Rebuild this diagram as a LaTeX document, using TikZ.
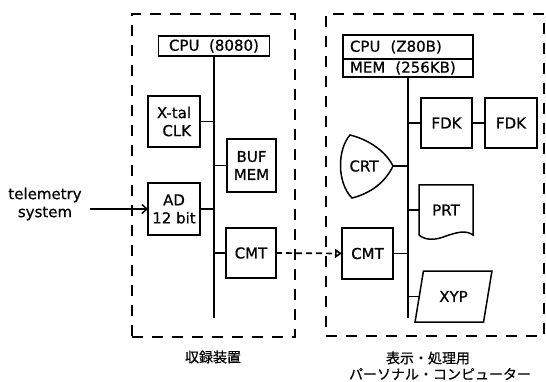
\documentclass[tikz,border=0pt]{standalone}
\usepackage{fontspec}
\setmainfont[FakeBold=0.6]{DejaVu Sans}
\newfontfamily\jpfont[FakeBold=0.5]{Noto Sans CJK JP}
\usetikzlibrary{arrows.meta, shapes.geometric, positioning}

\begin{document}
\begin{tikzpicture}[x=1pt, y=-1pt,
    unit/.style={rectangle, draw=black, line width=1.5pt, inner sep=0pt, outer sep=0pt, align=center},
    group/.style={draw=black, line width=1.7pt, dash pattern=on 11pt off 9pt, inner sep=0pt, outer sep=0pt},
    bus/.style={line width=1.5pt},
    tape/.style={-{Triangle[open, length=7pt, width=9pt]}, line width=1.7pt, dash pattern=on 6pt off 4pt},
    inarr/.style={-{Straight Barb[length=5pt, width=9pt]}, line width=1.5pt},
    caption/.style={font=\jpfont\fontsize{14}{16}\selectfont},
    font=\fontsize{15}{18}\selectfont]
\useasboundingbox (0,0) rectangle (546,382);
\node[group, minimum width=163pt, minimum height=323pt] (recorder) at (213.5,175.5) {};
\node[group, minimum width=218pt, minimum height=322pt] (pc) at (435,175) {};
% recorder side
\node[unit, minimum width=111pt, minimum height=20pt] (cpuA) at (214,46) {CPU~~(8080)};
\node[unit, minimum width=52pt, minimum height=51pt, align=right] (xtal) at (174,121.5) {X-tal\\CLK};
\node[unit, minimum width=49pt, minimum height=53pt] (buf) at (251.5,165.5) {BUF\\MEM};
\node[unit, minimum width=52pt, minimum height=52pt] (ad) at (174,209) {AD\\12 bit};
\node[unit, minimum width=50pt, minimum height=50pt] (cmtA) at (251,253) {CMT};
\coordinate (busA) at (214,318);
\draw[bus] (cpuA.south) -- (busA);
\draw[bus] (xtal.east) -- (xtal.east -| busA);
\draw[bus] (buf.west) -- (buf.west -| busA);
\draw[bus] (ad.east) -- (ad.east -| busA);
\draw[bus] (cmtA.west) -- (cmtA.west -| busA);
\node[align=center] (tele) at (45,204) {telemetry\\system};
\coordinate (telin) at (90,209);
\draw[inarr] (telin) -- (ad.west);
% computer side
\node[unit, minimum width=130pt, minimum height=24pt, text width=116pt, align=left] (cpuB) at (408,47) {CPU~~(Z80B)};
\node[unit, minimum width=130pt, minimum height=18pt, text width=116pt, align=left, below=0pt of cpuB] (memB) {MEM~~(256KB)};
\coordinate (busB) at (408,318);
\draw[bus] (memB.south) -- (busB);
\node[unit, minimum width=51pt, minimum height=50pt] (fdkA) at (446.5,123) {FDK};
\node[unit, minimum width=52pt, minimum height=50pt] (fdkB) at (511,123) {FDK};
\draw[bus] (fdkA.east) -- (fdkB.west);
\draw[bus] (fdkA.west) -- (fdkA.west -| busB);
\node (crt) at (364,166) {CRT};
\coordinate (crttip) at (393,166);
\draw[bus] (350,135) .. controls (370,140) and (386,152) .. (crttip)
    .. controls (386,181) and (372,193) .. (352,198)
    .. controls (337,183) and (337,150) .. (350,135) -- cycle;
\draw[bus] (crttip) -- (crttip -| busB);
\node[minimum width=54pt, minimum height=50pt, inner sep=0pt, outer sep=0pt] (prt) at (446,210) {PRT};
\draw[bus] (prt.south west) -- (prt.north west) -- (prt.north east) -- (prt.south east)
    .. controls (466,230) and (458,232) .. (446,236)
    .. controls (434,241) and (425,240) .. (prt.south west);
\draw[bus] (prt.west) -- (prt.west -| busB);
\node[unit, minimum width=51pt, minimum height=51pt] (cmtB) at (367.5,253.5) {CMT};
\draw[bus] (cmtB.east) -- (cmtB.east -| busB);
\node[unit, trapezium, trapezium left angle=70, trapezium right angle=110, trapezium stretches=true, minimum width=77pt, minimum height=51pt] (xyp) at (453.5,296.5) {XYP};
\draw[bus] (xyp.west) -- (xyp.west -| busB);
\draw[tape] (cmtA.east) -- (cmtB.west);
% captions
\node[caption] (capA) at (213,357) {収録装置};
\node[caption] (capB) at (428,358) {表示・処理用};
\node[caption] (capC) at (440,374) {パーソナル・コンピューター};
\end{tikzpicture}
\end{document}
